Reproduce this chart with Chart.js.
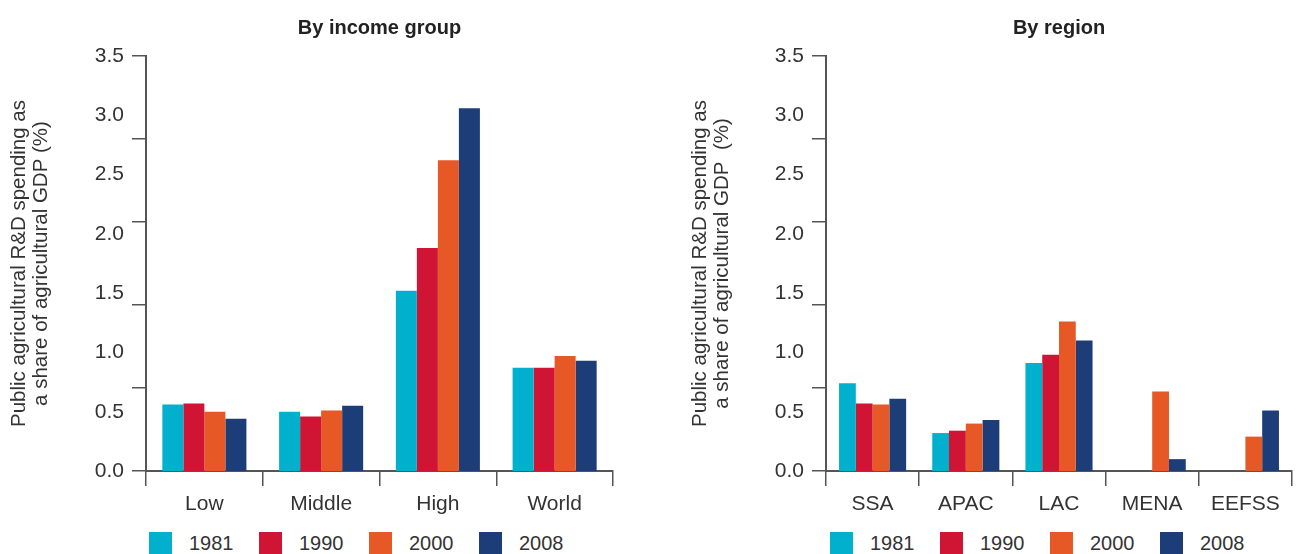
<!DOCTYPE html>
<html>
<head>
<meta charset="utf-8">
<script src="https://cdn.jsdelivr.net/npm/chart.js@4.4.1/dist/chart.umd.min.js"></script>
<style>
  html, body { margin: 0; padding: 0; background: #fff; overflow: hidden; }
  body { width: 1297px; height: 554px; position: relative; font-family: "Liberation Sans", Arial, sans-serif; }
  .panel { position: absolute; top: 0; }
  .legend { position: absolute; top: 532px; display: flex; }
  .legend-item { width: 110px; display: flex; align-items: center; font-size: 20px; color: #333; }
  .legend-item span.box { width: 23px; height: 23px; margin-right: 17px; display: inline-block; }
</style>
</head>
<body>
<div class="panel" style="left:0px"><canvas id="graficoIngreso" width="650" height="520"></canvas></div>
<div class="panel" style="left:650px"><canvas id="graficoRegion" width="647" height="520"></canvas></div>
<div class="legend" id="leyendaIngreso" style="left:149px"></div>
<div class="legend" id="leyendaRegion" style="left:830px"></div>
<script>
// Series y colores
const years = ['1981', '1990', '2000', '2008'];
const colors = ['#00b0cc', '#cf1533', '#e65826', '#1c3d77'];

// Panel izquierdo: por grupo de ingreso
const incomeGroups = ['Low', 'Middle', 'High', 'World'];
const income1981 = [0.56, 0.50, 1.52, 0.87];
const income1990 = [0.57, 0.46, 1.88, 0.87];
const income2000 = [0.50, 0.51, 2.62, 0.97];
const income2008 = [0.44, 0.55, 3.06, 0.93];

// Panel derecho: por región
const regions = ['SSA', 'APAC', 'LAC', 'MENA', 'EEFSS'];
const region1981 = [0.74, 0.32, 0.91, null, null];
const region1990 = [0.57, 0.34, 0.98, null, null];
const region2000 = [0.56, 0.40, 1.26, 0.67, 0.29];
const region2008 = [0.61, 0.43, 1.10, 0.10, 0.51];

// Eje Y: etiquetas cada 0.5, marcas cada 0.7 (como en el original)
const yMax = 3.5;
const labelStep = 0.5;
const markStep = 0.7;

const axisColor = '#555';
const textColor = '#333';
const fontFamily = '"Liberation Sans", Arial, sans-serif';

function crearGrafico(id, titulo, categorias, series, yTitulo, anchoEtiquetas, margenTitulo, margenDerecho) {
    new Chart(document.getElementById(id), {
        type: 'bar',
        data: {
            labels: categorias,
            datasets: series.map((data, i) => ({
                label: years[i],
                data: data,
                backgroundColor: colors[i],
                borderWidth: 0,
                categoryPercentage: 0.72,
                barPercentage: 1.0
            }))
        },
        options: {
            responsive: false,
            animation: false,
            layout: { padding: { left: 0, right: margenDerecho, top: 0, bottom: 0 } },
            plugins: {
                legend: { display: false },
                tooltip: { enabled: false },
                title: {
                    display: true,
                    text: titulo,
                    fullSize: false,
                    color: '#222',
                    font: { family: fontFamily, size: 20, weight: 'bold' },
                    padding: { top: 16, bottom: 16 }
                }
            },
            scales: {
                x: {
                    type: 'category',
                    offset: true,
                    grid: {
                        offset: true,
                        drawOnChartArea: false,
                        drawTicks: true,
                        tickLength: 15,
                        color: axisColor,
                        lineWidth: 1.5
                    },
                    border: { display: true, color: axisColor, width: 2 },
                    ticks: {
                        color: textColor,
                        font: { family: fontFamily, size: 21 },
                        padding: 6,
                        maxRotation: 0
                    },
                    afterFit: s => { s.height = 49; }
                },
                yLab: {
                    position: 'left',
                    weight: 10,
                    min: 0,
                    max: yMax,
                    grid: { display: false, drawTicks: false },
                    border: { display: false },
                    ticks: {
                        stepSize: labelStep,
                        color: textColor,
                        font: { family: fontFamily, size: 21 },
                        padding: 8,
                        callback: v => v.toFixed(1)
                    },
                    title: {
                        display: true,
                        text: yTitulo,
                        color: textColor,
                        font: { family: fontFamily, size: 20.5, lineHeight: 1.05 },
                        padding: { top: margenTitulo, bottom: 0 }
                    },
                    afterFit: s => { s.width = anchoEtiquetas; }
                },
                y: {
                    position: 'left',
                    weight: 0,
                    min: 0,
                    max: yMax,
                    grid: {
                        drawOnChartArea: false,
                        drawTicks: true,
                        tickLength: 14,
                        color: axisColor,
                        lineWidth: 1.5
                    },
                    border: { display: true, color: axisColor, width: 2 },
                    ticks: { display: false, stepSize: markStep },
                    afterFit: s => { s.width = 14; }
                }
            }
        }
    });
}

function crearLeyenda(id) {
    const cont = document.getElementById(id);
    years.forEach((y, i) => {
        const item = document.createElement('div');
        item.className = 'legend-item';
        item.innerHTML = `<span class="box" style="background:${colors[i]}"></span>${y}`;
        cont.appendChild(item);
    });
}

crearGrafico('graficoIngreso', 'By income group', incomeGroups,
    [income1981, income1990, income2000, income2008],
    ['Public agricultural R&D spending as', 'a share of agricultural GDP (%)'], 132, 9, 37);

crearGrafico('graficoRegion', 'By region', regions,
    [region1981, region1990, region2000, region2008],
    ['Public agricultural R&D spending as', 'a share of agricultural GDP  (%)'], 162, 40, 5);

crearLeyenda('leyendaIngreso');
crearLeyenda('leyendaRegion');
</script>
</body>
</html>
